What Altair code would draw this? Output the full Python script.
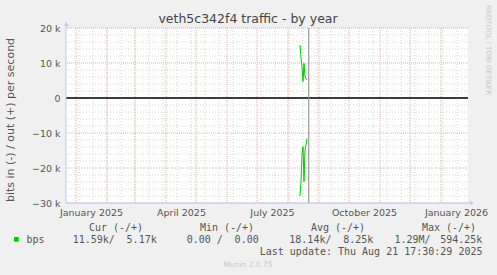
import altair as alt
import pandas as pd

# ---- data ----
days = ["2025-08-13", "2025-08-14", "2025-08-15", "2025-08-16",
        "2025-08-17", "2025-08-18", "2025-08-19", "2025-08-20"]
out_bps = [15100, 11500, 8900, 4700, 9900, 6100, 5500, 5170]
in_bps = [-28000, -24000, -16000, -13900, -23900, -14900, -13400, -11590]
now_stamp = ["2025-08-21T17:30:29"]

y_major = [-30000, -20000, -10000, 0, 10000, 20000]
y_minor = [v for v in range(-30000, 20001, 2000) if v % 10000 != 0]
month_lines = [d.strftime("%Y-%m-%dT00:00:00") for d in pd.date_range("2025-01-01", "2026-01-01", freq="MS")]
minor_lines = [d.strftime("%Y-%m-%dT00:00:00") for d in pd.date_range("2025-01-04", "2026-01-27", freq="14D")]
label_months = [(2025, 1), (2025, 4), (2025, 7), (2025, 10), (2026, 1)]

title_text = "veth5c342f4 traffic - by year"
y_title = "bits in (-) / out (+) per second"
side_text = "RRDTOOL / TOBI OETIKER"
headers = ["Cur (-/+)", "Min (-/+)", "Avg (-/+)", "Max (-/+)"]
row_values = [("11.59k/", "5.17k"), ("0.00 /", "0.00"), ("18.14k/", "8.25k"), ("1.29M/", "594.25k")]
last_update = "Last update: Thu Aug 21 17:30:29 2025"
footer = "Munin 2.0.75"

# ---- tables ----
rows = []
for d, o, i in zip(days, out_bps, in_bps):
    rows.append({"t": d + "T00:00:00", "v": o, "s": "out"})
    rows.append({"t": d + "T00:00:00", "v": i, "s": "in"})
df = pd.DataFrame(rows)

W, H = 402, 175
xdom = [alt.DateTime(year=2024, month=12, date=22), alt.DateTime(year=2026, month=1, date=28)]
xscale = alt.Scale(domain=xdom)
yscale = alt.Scale(domain=[-30000, 20000], nice=False, zero=False)

FONT = "DejaVu Sans"
MONO = "DejaVu Sans Mono"

XAXIS = alt.Axis(values=[alt.DateTime(year=y, month=m, date=1) for y, m in label_months],
                 format="%B %Y", labelOffset=15, ticks=False, tickSize=0, domain=False,
                 grid=False, labelPadding=4, labelFont=FONT, labelFontSize=9.5,
                 labelColor="#555555", labelFlush=False, labelOverlap=False)
YAXIS = alt.Axis(values=y_major, ticks=False, tickSize=0, domain=False, grid=False,
                 labelPadding=6, labelFont=FONT, labelFontSize=9.5, labelColor="#555555",
                 labelExpr="datum.value == 0 ? '0' : format(datum.value/1000, 'd') + ' k'")

def X(f):
    return alt.X(f, scale=xscale, title=None, axis=XAXIS)

def Y(f):
    return alt.Y(f, scale=yscale, title=None, axis=YAXIS)

def vrules(vals, color, dash):
    return alt.Chart(pd.DataFrame({"t": vals})).mark_rule(
        color=color, strokeDash=dash, strokeWidth=1
    ).encode(x=X("t:T"))

def hrules(vals, color, dash):
    return alt.Chart(pd.DataFrame({"v": vals})).mark_rule(
        color=color, strokeDash=dash, strokeWidth=1
    ).encode(y=Y("v:Q"))

minor_x = vrules(minor_lines, "#d4d4d4", [1, 2])
minor_y = hrules(y_minor, "#d4d4d4", [1, 2])
major_x = vrules(month_lines, "#eea8a8", [1, 1])
major_y = hrules(y_major, "#eea8a8", [1, 1])

zero = alt.Chart(pd.DataFrame({"v": [0]})).mark_rule(color="black", strokeWidth=1.5).encode(y=Y("v:Q"))

now_line = alt.Chart(pd.DataFrame({"t": now_stamp})).mark_rule(color="#999999", strokeWidth=1.2).encode(
    x=X("t:T"))

lines = alt.Chart(df).mark_line(color="#00cc00", strokeWidth=1).encode(
    x=X("t:T"), y=Y("v:Q"), detail="s:N")

AX = "#c4c8ee"
yaxis_line = alt.Chart().mark_rule(color=AX, strokeWidth=1).encode(
    x=alt.value(0), y=alt.value(H), y2=alt.value(-6))
xaxis_line = alt.Chart().mark_rule(color=AX, strokeWidth=1).encode(
    x=alt.value(0), x2=alt.value(W + 3), y=alt.value(H))
up_arrow = alt.Chart().mark_point(shape="triangle-up", filled=True, color=AX, size=22, opacity=1).encode(
    x=alt.value(0.5), y=alt.value(-4))
right_arrow = alt.Chart().mark_point(shape="triangle-right", filled=True, color=AX, size=22, opacity=1).encode(
    x=alt.value(W + 4), y=alt.value(H))

def txt(s, x, y, size=10, font=FONT, color="#555555", align="left", angle=0, baseline="middle"):
    return alt.Chart().mark_text(text=s, font=font, fontSize=size, color=color, align=align,
                                 baseline=baseline, angle=angle).encode(x=alt.value(x), y=alt.value(y))

texts = [
    txt(title_text, 182, -9, size=12.5, color="#444444", align="center"),
    txt(y_title, -55, 92, size=11, color="#555555", align="center", angle=270),
    txt(side_text, 421.5, -23, size=7, color="#c8c8c8", align="left", angle=90),
]
for h, cx in zip(headers, [116, 227, 338, 449]):
    texts.append(txt(h, cx - 66, 200, font=MONO, align="center"))
texts.append(txt("bps", 26.5 - 66, 211.5, font=MONO))
pos = [(72.7, 156.7), (186.7, 258.7), (289.3, 373.3), (394.5, 482.3)]
for (a, b), (xa, xb) in zip(row_values, pos):
    texts.append(txt(a, xa - 66, 211.5, font=MONO))
    texts.append(txt(b, xb - 66, 211.5, font=MONO, align="right"))
texts.append(txt(last_update, 482.5 - 66, 224, font=MONO, align="right"))
texts.append(txt(footer, 248 - 66, 236.5, size=7.5, color="#c8c8c8", align="center"))

swatch = alt.Chart().mark_rect(color="#00cc00").encode(
    x=alt.value(14 - 66), x2=alt.value(18.7 - 66), y=alt.value(237 - 28), y2=alt.value(241.7 - 28))

chart = alt.layer(
    minor_x, minor_y, major_x, major_y, zero, now_line, lines,
    yaxis_line, xaxis_line, up_arrow, right_arrow, swatch, *texts
).properties(
    width=W, height=H,
    autosize=alt.AutoSizeParams(type="none"),
    padding={"left": 66, "top": 28, "right": 29, "bottom": 72},
    background="#f0f0f0",
).configure_view(stroke=None, fill="white")

chart.save("out.html", embed_options={"renderer": "svg", "actions": False})
